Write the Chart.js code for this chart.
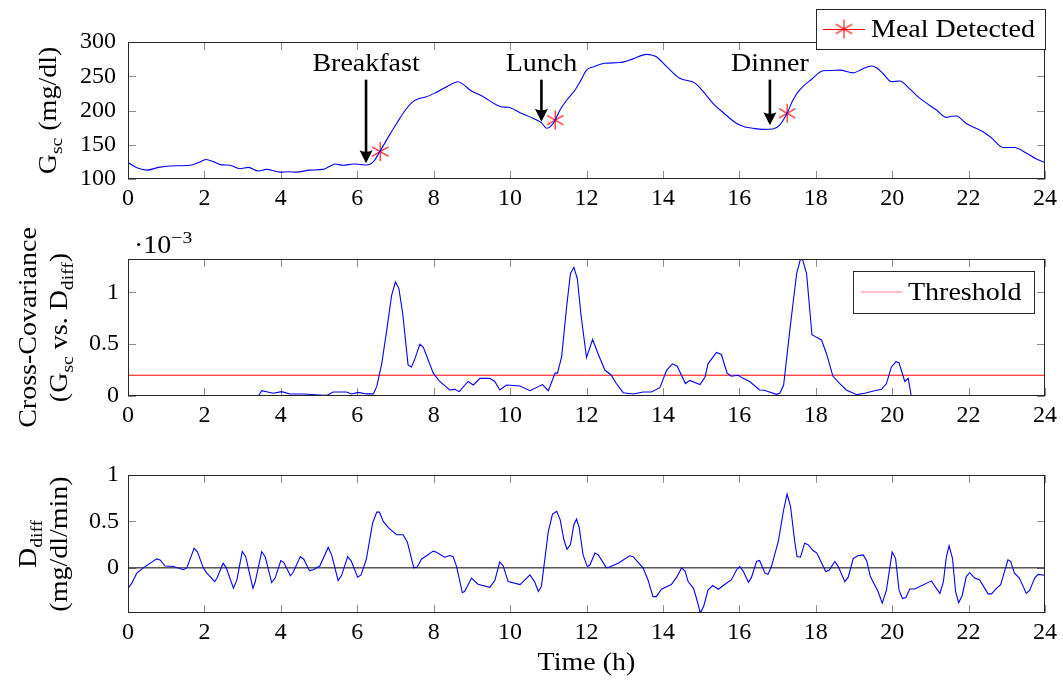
<!DOCTYPE html>
<html>
<head>
<meta charset="utf-8">
<title>Meal detection from subcutaneous glucose</title>
<script src="https://cdn.jsdelivr.net/npm/chart.js@4.4.1/dist/chart.umd.min.js"></script>
<style>
  html, body { margin: 0; padding: 0; background: #fff; }
  body { width: 1063px; height: 680px; position: relative; overflow: hidden; }
  canvas { position: absolute; left: 0; }
</style>
</head>
<body>
<canvas id="glucose" width="1063" height="218" style="top:0"></canvas>
<canvas id="covariance" width="1063" height="222" style="top:218px"></canvas>
<canvas id="derivative" width="1063" height="240" style="top:440px"></canvas>
<script>
// ---- data -------------------------------------------------------------

// shared time axis
const xTicks = [0, 2, 4, 6, 8, 10, 12, 14, 16, 18, 20, 22, 24];

// subcutaneous glucose G_sc (mg/dl)
const gTime = [0, 0.25, 0.5, 0.8, 1.1, 1.62, 1.85, 2.04, 2.25, 2.41, 2.67, 2.93, 3.15, 3.41, 3.63, 3.98,
  4.2, 4.41, 4.76, 5.11, 5.3, 5.42, 5.63, 5.9, 6.1, 6.24, 6.42, 6.59, 6.8, 7.03, 7.25, 7.46, 7.6, 7.81,
  8.05, 8.25, 8.45, 8.64, 8.8, 8.95, 9.3, 9.65, 9.8, 9.95, 10.26, 10.6, 10.8, 10.97, 11.08, 11.17, 11.3,
  11.48, 11.7, 11.85, 12.0, 12.2, 12.48, 12.87, 13.2, 13.57, 13.7, 13.83, 14.1, 14.44, 14.84, 15.05, 15.31,
  15.6, 15.93, 16.15, 16.36, 16.6, 16.88, 17.06, 17.25, 17.4, 17.58, 17.9, 18.19, 18.4, 18.63, 18.98, 19.2,
  19.46, 19.6, 19.76, 19.98, 20.2, 20.45, 20.72, 21.16, 21.42, 21.55, 21.68, 21.94, 22.38, 22.6, 22.9,
  23.2, 23.52, 23.75, 24];
const gValue = [124, 116, 113, 117, 119, 120, 124, 128.5, 125, 121, 120, 115, 117, 111.7, 114, 110,
  110.5, 110, 113, 114, 119, 122, 120, 122, 121, 120.4, 125, 140, 160, 181, 200, 213, 217, 220,
  226, 232, 238, 242, 237, 230, 220, 208, 205, 204.7, 196.8, 188.6, 183, 174, 178, 185, 200,
  215, 230, 244, 259, 264, 269, 270, 275, 282, 281, 278.5, 264, 247, 240, 228, 210.5,
  196, 181, 176, 174, 172.5, 173, 179, 196, 215, 230, 246, 258, 258.5, 259, 255, 260,
  265, 262, 254, 242, 243, 232, 218, 200.7, 190, 191.5, 192, 181, 169, 160, 146,
  146, 137.5, 130, 124];
const gTicks = [100, 150, 200, 250, 300];

// detected meals (marker positions on the glucose trace)
const detectTime = [6.6, 11.18, 17.25];
const detectValue = [140, 186, 196];

// announced meals (arrow annotations)
const mealName = ['Breakfast', 'Lunch', 'Dinner'];
const mealTime = [6.23, 10.82, 16.8];
const mealArrowFrom = [245, 245, 245];
const mealArrowTo = [123, 183.5, 178.5];

// cross-covariance G_sc vs. D_diff, in units of 1e-3
const covTime = [0, 3.41, 3.5, 3.8, 4.02, 4.24, 4.59, 5.02, 5.2, 5.37, 5.72, 5.85, 6.03, 6.24, 6.42,
  6.51, 6.64, 6.77, 6.9, 7.0, 7.09, 7.19, 7.33, 7.42, 7.51, 7.64, 7.73, 7.99, 8.16, 8.42, 8.55, 8.67,
  8.9, 9.04, 9.21, 9.47, 9.6, 9.73, 9.91, 10.26, 10.52, 10.85, 11.0, 11.18, 11.24, 11.35, 11.48, 11.58,
  11.67, 11.76, 11.85, 12.0, 12.16, 12.3, 12.48, 12.65, 12.78, 12.96, 13.22, 13.48, 13.7, 13.92, 14.1,
  14.25, 14.37, 14.59, 14.7, 14.97, 15.1, 15.18, 15.4, 15.53, 15.68, 15.79, 15.97, 16.1, 16.27, 16.53,
  16.65, 16.97, 17.06, 17.16, 17.32, 17.5, 17.6, 17.66, 17.76, 17.9, 18.02, 18.15, 18.28, 18.45, 18.63,
  18.8, 19.07, 19.28, 19.54, 19.72, 19.85, 19.98, 20.1, 20.18, 20.33, 20.42, 20.5, 24];
const covValue = [0, 0, 0.051, 0.026, 0.042, 0.019, 0.019, 0.01, 0.006, 0.038, 0.038, 0.019, 0.035, 0.02, 0.02,
  0.09, 0.31, 0.63, 0.97, 1.10, 1.035, 0.795, 0.30, 0.28, 0.36, 0.5, 0.47, 0.22, 0.14, 0.058, 0.064, 0.042,
  0.14, 0.106, 0.17, 0.17, 0.14, 0.058, 0.106, 0.096, 0.051, 0.11, 0.051, 0.22, 0.22, 0.38, 0.86, 1.18,
  1.24, 1.13, 0.8, 0.37, 0.545, 0.41, 0.25, 0.2, 0.12, 0.032, 0.02, 0.038, 0.038, 0.08, 0.25,
  0.31, 0.29, 0.12, 0.15, 0.11, 0.18, 0.31, 0.42, 0.40, 0.22, 0.19, 0.2, 0.17, 0.14, 0.058,
  0.055, 0.016, 0.026, 0.106, 0.63, 1.18, 1.32, 1.31, 1.18, 0.59, 0.565, 0.54, 0.41, 0.19, 0.12,
  0.058, 0.013, 0.026, 0.051, 0.064, 0.12, 0.28, 0.33, 0.32, 0.14, 0.17, 0, 0];
const covTicks = [0, 0.5, 1];
const covTickLabels = ['0', '0.5', '1'];
const thresholdLevel = 0.2;

// glucose rate of change D_diff (mg/dl/min)
const dTime = [0, 0.1, 0.23, 0.4, 0.75, 0.84, 0.97, 1.19, 1.45, 1.54, 1.73, 1.82, 1.97, 2.06, 2.27, 2.33,
  2.49, 2.57, 2.76, 2.85, 2.99, 3.08, 3.27, 3.33, 3.5, 3.59, 3.76, 3.85, 4.0, 4.08, 4.25, 4.32, 4.51, 4.6,
  4.75, 4.85, 5.02, 5.24, 5.33, 5.5, 5.59, 5.75, 5.84, 6.01, 6.1, 6.24, 6.4, 6.51, 6.58, 6.68, 6.82, 7.03,
  7.2, 7.31, 7.48, 7.57, 7.68, 7.99, 8.06, 8.29, 8.42, 8.51, 8.6, 8.75, 8.81, 8.99, 9.16, 9.47, 9.6, 9.73,
  9.82, 9.95, 10.26, 10.52, 10.64, 10.74, 10.82, 11.0, 11.11, 11.22, 11.31, 11.41, 11.49, 11.58, 11.67,
  11.74, 11.81, 11.91, 12.02, 12.09, 12.22, 12.31, 12.52, 12.6, 12.83, 13.13, 13.22, 13.48, 13.61, 13.74,
  13.83, 13.96, 14.22, 14.36, 14.49, 14.58, 14.66, 14.8, 14.88, 14.98, 15.07, 15.18, 15.3, 15.45, 15.66,
  15.79, 15.93, 16.01, 16.1, 16.24, 16.32, 16.45, 16.53, 16.67, 16.75, 16.84, 17.02, 17.16, 17.25, 17.34,
  17.45, 17.51, 17.6, 17.71, 17.8, 17.93, 18.03, 18.26, 18.35, 18.5, 18.59, 18.76, 18.85, 18.98, 19.1,
  19.24, 19.33, 19.43, 19.63, 19.74, 19.85, 20.0, 20.09, 20.18, 20.27, 20.36, 20.46, 20.59, 21.03, 21.12,
  21.25, 21.34, 21.42, 21.49, 21.58, 21.66, 21.74, 21.83, 21.94, 22.03, 22.16, 22.29, 22.51, 22.6, 22.73,
  22.84, 23.03, 23.1, 23.2, 23.33, 23.51, 23.6, 23.73, 23.82, 24];
const dValue = [-0.22, -0.165, -0.057, 0, 0.097, 0.086, 0.02, 0.014, -0.02, 0, 0.21, 0.17, 0, -0.054, -0.148, -0.11,
  0.05, 0, -0.22, -0.13, 0.176, 0.12, -0.22, -0.15, 0.176, 0.12, -0.158, -0.11, 0.079, 0.057, -0.086, -0.05, 0.122, 0.093,
  -0.03, -0.02, 0.02, 0.22, 0.14, -0.137, -0.08, 0.122, 0.075, -0.1, -0.075, 0.097, 0.48, 0.6, 0.6, 0.5, 0.43, 0.357,
  0.357, 0.28, 0, 0.01, 0.093, 0.18, 0.17, 0.115, 0.133, 0.12, 0.014, -0.266, -0.255, -0.11, -0.176, -0.21, -0.137, 0.065,
  0.02, -0.148, -0.18, -0.076, -0.148, -0.255, -0.2, 0.39, 0.58, 0.61, 0.52, 0.30, 0.2, 0.25, 0.464,
  0.525, 0.43, 0.14, 0.014, 0.03, 0.16, 0.14, 0, 0.01, 0.05, 0.13, 0.12, 0, -0.13, -0.31,
  -0.31, -0.23, -0.18, -0.1, 0, -0.035, -0.148, -0.22, -0.33, -0.486, -0.41, -0.24, -0.19, -0.23, -0.166,
  -0.13, -0.02, 0.014, -0.035, -0.155, -0.1, 0.068, 0.079, -0.057, -0.07, 0.014, 0.284, 0.626, 0.795, 0.66,
  0.284, 0.122, 0.115, 0.266, 0.25, 0.187, 0.16, -0.04, -0.025, 0.068, 0.014, -0.148, -0.1, 0.1, 0.13,
  0.14, 0.08, -0.094, -0.255, -0.38, -0.24, 0.17, 0.1, -0.24, -0.33, -0.32, -0.227, -0.227, -0.14, -0.2,
  -0.275, -0.15, 0.122, 0.238, 0.1, -0.255, -0.375, -0.3, -0.094, -0.05, -0.11, -0.13, -0.28, -0.28, -0.22,
  -0.18, 0.086, 0.07, -0.057, -0.11, -0.275, -0.24, -0.11, -0.07, -0.08];
const dTicks = [0, 0.5, 1];
const dTickLabels = ['0', '0.5', '1'];

// ---- drawing helpers ---------------------------------------------------

const FONT = '"Liberation Serif", "Times New Roman", serif';
const TEXT_STRETCH = 1.12;   // widen the Times-like face towards a Computer Modern set width
const PLOT_LEFT = 128;
const PLOT_RIGHT_GAP = 18;

const toPoints = (xs, ys) => xs.map((x, i) => ({ x, y: ys[i] }));

// six-spoke asterisk used for the "Meal Detected" markers
function asteriskImage(r, color) {
  const s = Math.ceil(r * 2 + 4);
  const c = document.createElement('canvas');
  c.width = s; c.height = s;
  const g = c.getContext('2d');
  g.strokeStyle = color; g.lineWidth = 1.1;
  g.translate(s / 2, s / 2);
  g.beginPath();
  for (const deg of [90, 30, -30]) {
    const a = deg * Math.PI / 180;
    g.moveTo(r * Math.cos(a), -r * Math.sin(a));
    g.lineTo(-r * Math.cos(a), r * Math.sin(a));
  }
  g.stroke();
  return c;
}
const asterisk = asteriskImage(9.5, '#ff0000');

// text runs with subscripts / superscripts: [text, shift] where shift 1 = sub, -1 = sup
function drawRich(ctx, parts, x, y, size, angle, align, baseline) {
  const small = size * 0.7;
  ctx.save();
  ctx.translate(x, y);
  ctx.rotate(angle || 0);
  ctx.scale(TEXT_STRETCH, 1);
  const widths = parts.map(([t, s]) => {
    ctx.font = `${s ? small : size}px ${FONT}`;
    return ctx.measureText(t).width;
  });
  const total = widths.reduce((a, b) => a + b, 0);
  let cx = align === 'left' ? 0 : -total / 2;
  ctx.fillStyle = '#000';
  ctx.textAlign = 'left';
  ctx.textBaseline = baseline || 'alphabetic';
  parts.forEach(([t, s], i) => {
    ctx.font = `${s ? small : size}px ${FONT}`;
    const dy = s === 1 ? size * 0.22 : s === -1 ? -size * 0.4 : 0;
    ctx.fillText(t, cx, dy);
    cx += widths[i];
  });
  ctx.restore();
}

function drawLegendBox(ctx, left, top, w, h, text, sample) {
  ctx.save();
  ctx.fillStyle = '#fff';
  ctx.fillRect(left, top, w, h);
  ctx.strokeStyle = '#262626';
  ctx.lineWidth = 1;
  ctx.strokeRect(Math.round(left) + 0.5, Math.round(top) + 0.5, Math.round(w), Math.round(h));
  const cy = top + h / 2;
  sample(cy);
  drawRich(ctx, [[text, 0]], left + 55, cy + 1, 25, 0, 'left', 'middle');
  ctx.restore();
}

// frame, inward tick marks and per-panel annotations
function decorPlugin(extra) {
  return {
    id: 'decor',
    beforeDatasetsDraw(chart) {
      const { ctx, chartArea: a, scales: { x, y } } = chart;
      ctx.save();
      ctx.strokeStyle = '#8a8a8a';
      ctx.lineWidth = 1;
      ctx.beginPath();
      const len = 8;
      x.ticks.forEach(t => {
        const px = Math.round(x.getPixelForValue(t.value)) + 0.5;
        ctx.moveTo(px, a.top); ctx.lineTo(px, a.top + len);
        ctx.moveTo(px, a.bottom); ctx.lineTo(px, a.bottom - len);
      });
      y.ticks.forEach(t => {
        const py = Math.round(y.getPixelForValue(t.value)) + 0.5;
        ctx.moveTo(a.left, py); ctx.lineTo(a.left + len, py);
        ctx.moveTo(a.right, py); ctx.lineTo(a.right - len, py);
      });
      ctx.stroke();
      ctx.restore();
    },
    afterDatasetsDraw(chart) {
      const { ctx, chartArea: a } = chart;
      ctx.save();
      ctx.strokeStyle = '#262626';
      ctx.lineWidth = 1;
      ctx.strokeRect(Math.round(a.left) + 0.5, Math.round(a.top) + 0.5,
        Math.round(a.right - a.left) - 1, Math.round(a.bottom - a.top) - 1);
      ctx.restore();
      if (extra) extra(chart);
    }
  };
}

function panel(id, cfg) {
  const canvas = document.getElementById(id);
  const plotH = cfg.plotBottom - cfg.plotTop;
  return new Chart(canvas, {
    type: 'line',
    data: { datasets: cfg.datasets },
    options: {
      responsive: false,
      animation: false,
      devicePixelRatio: 1,
      layout: { padding: { top: cfg.plotTop, right: PLOT_RIGHT_GAP, left: 0, bottom: 0 } },
      plugins: { legend: { display: false }, tooltip: { enabled: false } },
      elements: { point: { radius: 0 }, line: { borderWidth: 1.1 } },
      scales: {
        x: {
          type: 'linear', min: 0, max: 24,
          grid: { display: false, drawTicks: false },
          border: { display: false },
          afterBuildTicks: s => { s.ticks = xTicks.map(v => ({ value: v })); },
          afterFit: s => { s.height = canvas.height - cfg.plotTop - plotH; },
          ticks: { padding: 5, color: '#000', font: { family: FONT, size: 24 },
                   maxRotation: 0, autoSkip: false, callback: v => String(v) }
        },
        y: {
          type: 'linear', min: cfg.yMin, max: cfg.yMax,
          grid: { display: false, drawTicks: false },
          border: { display: false },
          afterBuildTicks: s => { s.ticks = cfg.yTicks.map(v => ({ value: v })); },
          afterFit: s => { s.width = PLOT_LEFT; },
          ticks: { padding: cfg.yPad, color: '#000', font: { family: FONT, size: 24 },
                   autoSkip: false, callback: (v, i) => cfg.yLabels[i] }
        }
      }
    },
    plugins: [decorPlugin(cfg.extra)]
  });
}

// ---- panel 1: glucose with meal annotations ----------------------------

const glucoseChart = panel('glucose', {
  plotTop: 42, plotBottom: 179,
  yMin: 100, yMax: 300, yTicks: gTicks, yLabels: gTicks.map(String), yPad: 12,
  datasets: [
    { label: 'G_sc', data: toPoints(gTime, gValue), borderColor: '#0000ff',
      cubicInterpolationMode: 'monotone' },
    { label: 'Meal Detected', data: toPoints(detectTime, detectValue), showLine: false,
      borderColor: '#ff0000', pointStyle: asterisk, pointRadius: 10 }
  ],
  extra(chart) {
    const { ctx, chartArea: a, scales: { x, y } } = chart;
    ctx.save();
    // meal arrows with labels
    mealName.forEach((name, i) => {
      const px = x.getPixelForValue(mealTime[i]);
      const y0 = y.getPixelForValue(mealArrowFrom[i]);
      const y1 = y.getPixelForValue(mealArrowTo[i]);
      const head = 13;
      ctx.strokeStyle = '#000';
      ctx.lineWidth = 2.6;
      ctx.beginPath();
      ctx.moveTo(px, y0); ctx.lineTo(px, y1 - head + 2);
      ctx.stroke();
      ctx.fillStyle = '#000';
      ctx.beginPath();
      ctx.moveTo(px, y1);
      ctx.lineTo(px - 6.5, y1 - head);
      ctx.quadraticCurveTo(px, y1 - head + 3, px + 6.5, y1 - head);
      ctx.closePath();
      ctx.fill();
      drawRich(ctx, [[name, 0]], px, y0 - 9, 25, 0);
    });
    // y-axis title
    drawRich(ctx, [['G', 0], ['sc', 1], [' (mg/dl)', 0]], 56, (a.top + a.bottom) / 2, 25, -Math.PI / 2);
    // legend
    const ds = chart.data.datasets[1];
    const l = a.right - 229;
    drawLegendBox(ctx, l, a.top - 33, 229, 40, ds.label, cy => {
      ctx.strokeStyle = ds.borderColor; ctx.lineWidth = 1;
      ctx.beginPath(); ctx.moveTo(l + 7, cy + 0.5); ctx.lineTo(l + 49, cy + 0.5); ctx.stroke();
      ctx.drawImage(asterisk, l + 28 - asterisk.width / 2, cy - asterisk.height / 2);
    });
    ctx.restore();
  }
});

// ---- panel 2: cross-covariance with threshold --------------------------

const covarianceChart = panel('covariance', {
  plotTop: 41, plotBottom: 178,
  yMin: 0, yMax: Math.max(...covValue), yTicks: covTicks, yLabels: covTickLabels, yPad: 9,
  datasets: [
    { label: 'Cross-Covariance', data: toPoints(covTime, covValue), borderColor: '#0000ff' },
    { label: 'Threshold', data: toPoints([0, 24], [thresholdLevel, thresholdLevel]),
      borderColor: '#ff0000', borderWidth: 1 }
  ],
  extra(chart) {
    const { ctx, chartArea: a } = chart;
    const cy = (a.top + a.bottom) / 2;
    // scale exponent above the axis
    drawRich(ctx, [['·10', 0], ['−3', -1]], a.left + 6, a.top - 6, 25, 0, 'left');
    drawRich(ctx, [['Cross-Covariance', 0]], 36, cy, 25, -Math.PI / 2);
    drawRich(ctx, [['(G', 0], ['sc', 1], [' vs. D', 0], ['diff', 1], [')', 0]], 67, cy, 25, -Math.PI / 2);
    const ds = chart.data.datasets[1];
    const left = a.right - 11 - 181;
    drawLegendBox(ctx, left, a.top + 12, 181, 42, ds.label, yMid => {
      ctx.strokeStyle = '#ff7f7f'; ctx.lineWidth = 1.2;
      ctx.beginPath(); ctx.moveTo(left + 8, yMid); ctx.lineTo(left + 49, yMid); ctx.stroke();
    });
  }
});

// ---- panel 3: rate of change -------------------------------------------

const derivativeChart = panel('derivative', {
  plotTop: 35, plotBottom: 173,
  yMin: Math.min(...dValue), yMax: 1, yTicks: dTicks, yLabels: dTickLabels, yPad: 9,
  datasets: [
    { label: 'D_diff', data: toPoints(dTime, dValue), borderColor: '#0000ff' },
    { label: 'zero', data: toPoints([0, 24], [0, 0]), borderColor: '#000000', borderWidth: 1 }
  ],
  extra(chart) {
    const { ctx, chartArea: a } = chart;
    const cy = (a.top + a.bottom) / 2;
    drawRich(ctx, [['D', 0], ['diff', 1]], 36, cy, 25, -Math.PI / 2);
    drawRich(ctx, [['(mg/dl/min)', 0]], 67, cy, 25, -Math.PI / 2);
    drawRich(ctx, [['Time (h)', 0]], (a.left + a.right) / 2, a.bottom + 57, 25, 0);
  }
});
</script>
</body>
</html>
